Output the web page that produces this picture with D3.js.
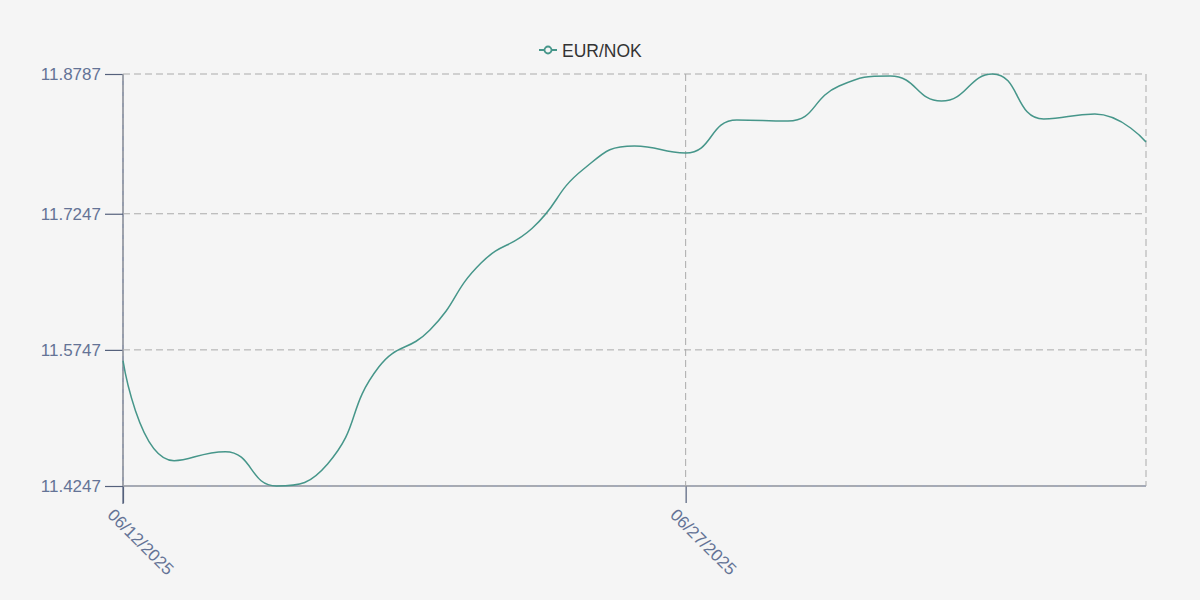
<!DOCTYPE html>
<html>
<head>
<meta charset="utf-8">
<script src="https://cdn.jsdelivr.net/npm/d3@7"></script>
<style>
  html, body { margin: 0; padding: 0; background: #f5f5f5; }
  svg { display: block; font-family: "Liberation Sans", Arial, Helvetica, sans-serif; }
</style>
</head>
<body>
<svg id="chart" width="1200" height="600"></svg>
<script>
// ---- data ----
const seriesName = "EUR/NOK";
const dates = [
  "06/12/2025","06/13/2025","06/16/2025","06/17/2025","06/18/2025","06/19/2025","06/20/2025",
  "06/23/2025","06/24/2025","06/25/2025","06/26/2025","06/27/2025","06/30/2025","07/01/2025",
  "07/02/2025","07/03/2025","07/04/2025","07/07/2025","07/08/2025","07/09/2025","07/10/2025"
];
const rates = [
  11.5628, 11.4526, 11.4625, 11.4247, 11.4490, 11.5558, 11.5966,
  11.6704, 11.7087, 11.7737, 11.7994, 11.7917, 11.8280, 11.8269,
  11.8655, 11.8765, 11.8489, 11.8787, 11.8291, 11.8346, 11.8038
];
const xTickLabels = ["06/12/2025", "06/27/2025"];
const yTickValues = [11.4247, 11.5747, 11.7247, 11.8787];

// ---- layout ----
const W = 1200, H = 600;
const plotL = 123, plotR = 1146, plotT = 74, plotB = 486;
const lineColor = "#46968a";
const axisColor = "#55617c";
const labelColor = "#647396";
const gridColor = "#ababab";

const svg = d3.select("#chart");
svg.append("rect").attr("width", W).attr("height", H).attr("fill", "#f5f5f5");

const x = d3.scalePoint().domain(dates).range([plotL, plotR]);
const y = d3.scaleLinear().domain([d3.min(rates), d3.max(rates)]).range([plotB, plotT]);

// axes
const yAxis = d3.axisLeft(y).tickValues(yTickValues).tickSize(18).tickPadding(4)
  .tickFormat(d3.format(".4f"));
const gy = svg.append("g").attr("transform", `translate(${plotL},0)`).call(yAxis);
gy.select(".domain").attr("stroke", axisColor).attr("stroke-width", 1.2)
  .attr("d", `M0,${plotT}V${plotB + 18}`);
gy.selectAll(".tick line").attr("stroke", axisColor).attr("stroke-width", 1.2);
gy.selectAll(".tick text").attr("fill", labelColor).attr("font-size", 17)
  .attr("font-family", "Liberation Sans, Arial, sans-serif");

const xAxis = d3.axisBottom(x).tickValues(xTickLabels).tickSize(17).tickFormat(d => d);
const gx = svg.append("g").attr("transform", `translate(0,${plotB})`).call(xAxis);
gx.select(".domain").attr("stroke", axisColor).attr("stroke-width", 1.2)
  .attr("d", `M${plotL},0H${plotR}`);
gx.selectAll(".tick line").attr("stroke", axisColor).attr("stroke-width", 1.2);
gx.selectAll(".tick text")
  .attr("fill", labelColor).attr("font-size", 17)
  .attr("font-family", "Liberation Sans, Arial, sans-serif")
  .attr("text-anchor", "start")
  .attr("dy", null).attr("y", null)
  .attr("transform", "translate(-17,30) rotate(45)");

// grid (dashed, drawn over axis lines)
const grid = svg.append("g");
grid.selectAll("line.h").data(yTickValues).join("line")
  .attr("x1", plotL).attr("x2", plotR)
  .attr("y1", d => y(d)).attr("y2", d => y(d))
  .attr("stroke", gridColor).attr("stroke-width", 1).attr("stroke-dasharray", "7,4");
grid.selectAll("line.v").data(xTickLabels.concat([dates[dates.length - 1]])).join("line")
  .attr("x1", d => x(d)).attr("x2", d => x(d))
  .attr("y1", plotT).attr("y2", plotB)
  .attr("stroke", gridColor).attr("stroke-width", 1).attr("stroke-dasharray", "7,4");

// ECharts-like constrained smoothing curve
function smoothCurve(context) {
  let pts;
  const smooth = 0.5;
  const mn = Math.min, mx = Math.max;
  return {
    areaStart() {}, areaEnd() {},
    lineStart() { pts = []; },
    point(px, py) { pts.push([+px, +py]); },
    lineEnd() {
      const n = pts.length;
      if (!n) return;
      context.moveTo(pts[0][0], pts[0][1]);
      let cpx0 = pts[0][0], cpy0 = pts[0][1];
      for (let i = 1; i < n; i++) {
        const [px, py] = pts[i];
        const [prevX, prevY] = pts[i - 1];
        let cpx1 = px, cpy1 = py, ncx = px, ncy = py;
        if (i < n - 1) {
          const [nextX, nextY] = pts[i + 1];
          let vx = nextX - prevX, vy = nextY - prevY;
          const lenPrev = Math.hypot(px - prevX, py - prevY);
          const lenNext = Math.hypot(nextX - px, nextY - py);
          const r = lenNext / (lenNext + lenPrev);
          ncx = px + vx * smooth * r; ncy = py + vy * smooth * r;
          ncx = mx(mn(ncx, mx(nextX, px)), mn(nextX, px));
          ncy = mx(mn(ncy, mx(nextY, py)), mn(nextY, py));
          vx = ncx - px; vy = ncy - py;
          cpx1 = px - vx * lenPrev / lenNext;
          cpy1 = py - vy * lenPrev / lenNext;
          cpx1 = mx(mn(cpx1, mx(prevX, px)), mn(prevX, px));
          cpy1 = mx(mn(cpy1, mx(prevY, py)), mn(prevY, py));
          vx = px - cpx1; vy = py - cpy1;
          ncx = px + vx * lenNext / lenPrev;
          ncy = py + vy * lenNext / lenPrev;
        }
        context.bezierCurveTo(cpx0, cpy0, cpx1, cpy1, px, py);
        cpx0 = ncx; cpy0 = ncy;
      }
    }
  };
}

const line = d3.line()
  .x((d, i) => x(dates[i]))
  .y(d => y(d))
  .curve(smoothCurve);

svg.append("path").datum(rates)
  .attr("d", line)
  .attr("fill", "none")
  .attr("stroke", lineColor)
  .attr("stroke-width", 1.5);

// legend
const lg = svg.append("g").attr("transform", "translate(539,50)");
lg.append("line").attr("x1", 0).attr("x2", 18).attr("y1", 0).attr("y2", 0)
  .attr("stroke", lineColor).attr("stroke-width", 2);
lg.append("circle").attr("cx", 9).attr("cy", 0).attr("r", 3.5)
  .attr("fill", "#f5f5f5").attr("stroke", lineColor).attr("stroke-width", 1.8);
lg.append("text").attr("x", 23).attr("y", 6.5)
  .attr("font-size", 17.5).attr("fill", "#333")
  .attr("font-family", "Liberation Sans, Arial, sans-serif")
  .text(seriesName);
</script>
</body>
</html>
